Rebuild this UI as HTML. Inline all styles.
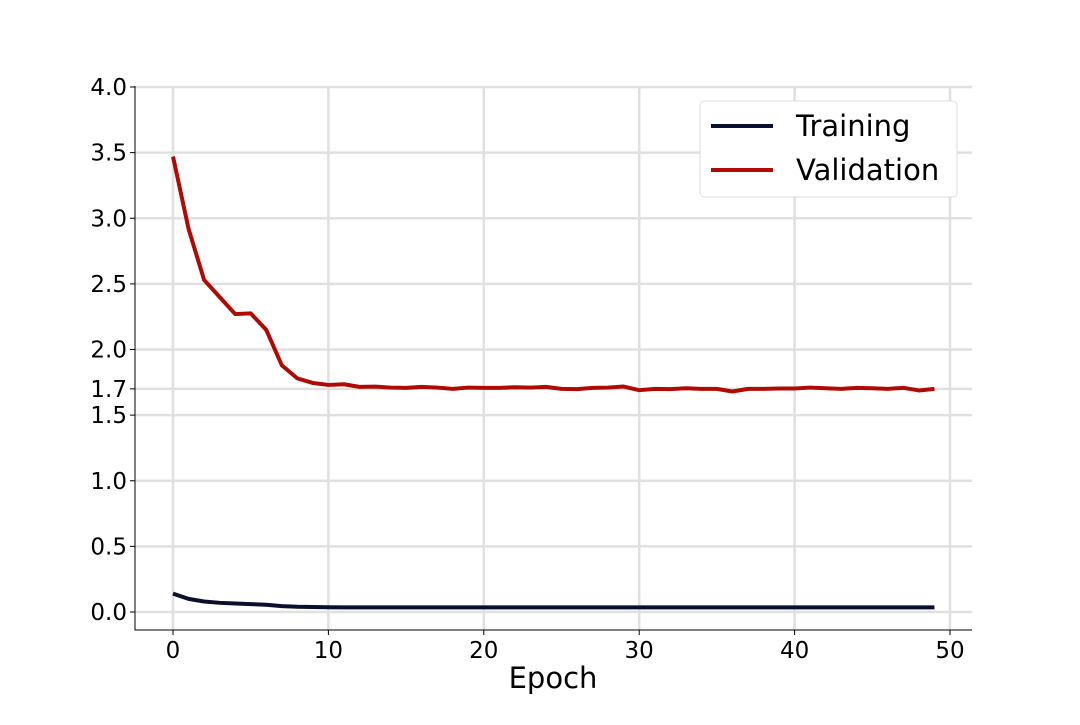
<!DOCTYPE html>
<html><head><meta charset="utf-8"><style>
body{margin:0;background:#fff;}
svg text{font-family:"DejaVu Sans","Liberation Sans",sans-serif;}
</style></head><body>
<svg id="chart" width="1080" height="720" xmlns="http://www.w3.org/2000/svg">
<g id="grid"></g><g id="series"></g><g id="axes"></g>
<g>
<rect x="700" y="101" width="257" height="96" rx="4" fill="#fff" stroke="#ddd"/>
<line x1="711" y1="126" x2="773" y2="126" stroke="#0a0f2c" stroke-width="4"/>
<text x="796" y="136" font-size="29">Training</text>
<line x1="711" y1="170" x2="773" y2="170" stroke="#b00a05" stroke-width="4"/>
<text x="796" y="180" font-size="29">Validation</text>
</g>
<text x="553" y="688" font-size="29" text-anchor="middle">Epoch</text>
</svg>
<script>
const training=[0.14,0.10,0.08,0.07,0.065,0.06,0.055,0.045,0.04,0.038,0.036,0.035,0.035,0.035,0.035,0.035,0.035,0.035,0.035,0.035,0.035,0.035,0.035,0.035,0.035,0.035,0.035,0.035,0.035,0.035,0.035,0.035,0.035,0.035,0.035,0.035,0.035,0.035,0.035,0.035,0.035,0.035,0.035,0.035,0.035,0.035,0.035,0.035,0.035,0.035];
const validation=[3.47,2.92,2.53,2.40,2.27,2.275,2.15,1.88,1.78,1.745,1.73,1.735,1.715,1.717,1.71,1.708,1.715,1.71,1.70,1.71,1.708,1.708,1.712,1.71,1.715,1.70,1.698,1.708,1.71,1.718,1.69,1.70,1.698,1.705,1.70,1.70,1.68,1.70,1.70,1.703,1.703,1.71,1.705,1.70,1.708,1.705,1.70,1.708,1.688,1.70];
const xTicks=[0,10,20,30,40,50];
const yTicks=[0.0,0.5,1.0,1.5,1.7,2.0,2.5,3.0,3.5,4.0];
const NS="http://www.w3.org/2000/svg";
const L=135,R=972,T=86,B=630;
const x=v=>173+v*15.54;
const y=v=>612-v*131.25;
function mk(tag,attrs,parent){const e=document.createElementNS(NS,tag);for(const k in attrs)e.setAttribute(k,attrs[k]);parent.appendChild(e);return e;}
const grid=document.getElementById('grid'),axes=document.getElementById('axes'),ser=document.getElementById('series');
xTicks.forEach(t=>{
  const g=mk('line',{x1:x(t),x2:x(t),y1:T,y2:B,stroke:'#e0e0e0','stroke-width':2.5},grid);
  
  
  mk('line',{x1:x(t),x2:x(t),y1:B,y2:B+5,stroke:'#000','stroke-width':1},axes);
  const tx=mk('text',{x:x(t),y:B+28,'font-size':23,'text-anchor':'middle'},axes);
  tx.textContent=t;
  
  
});
yTicks.forEach(t=>{
  const g=mk('line',{x1:L,x2:R,y1:y(t),y2:y(t),stroke:'#e0e0e0','stroke-width':2.5},grid);
  
  
  mk('line',{x1:L-5,x2:L,y1:y(t),y2:y(t),stroke:'#000','stroke-width':1},axes);
  const tx=mk('text',{x:L-8,y:y(t)+8,'font-size':23,'text-anchor':'end'},axes);
  tx.textContent=t.toFixed(1);
  
  
});
const ax=mk('path',{d:`M${L},${T}V${B}H${R}`,fill:'none',stroke:'#000','stroke-width':1},axes);


function line(arr,color,name){
  const p=mk('path',{d:arr.map((v,i)=>(i?'L':'M')+x(i)+','+y(v)).join(''),fill:'none',stroke:color,'stroke-width':4,'stroke-linejoin':'round'},ser);
  
  
}
line(training,'#0a0f2c','training-line');
line(validation,'#b00a05','validation-line');
</script>
</body></html>
